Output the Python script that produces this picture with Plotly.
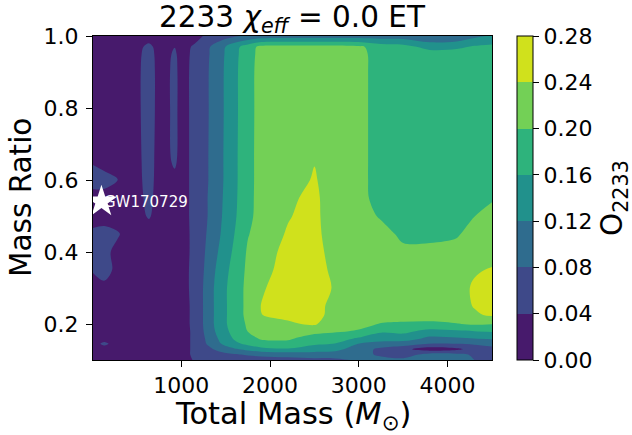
import plotly.graph_objects as go

# Total mass grid (columns) and mass ratio grid (rows)
total_mass = [5, 130, 280, 450, 635, 770, 925, 1000, 1150, 1300, 1450, 1600,
              1750, 1900, 2200, 2500, 2700, 3000, 3250, 3500, 3800, 4100, 4300, 4500]
mass_ratio = [0.10, 0.115, 0.13, 0.145, 0.16, 0.18, 0.20, 0.225, 0.25, 0.30, 0.35,
              0.40, 0.45, 0.50, 0.55, 0.60, 0.65, 0.80, 0.90, 0.95, 0.97, 1.00]

# O_2233 values, one list per mass-ratio row
o_q010 = [0.03, 0.03, 0.03, 0.03, 0.03, 0.03, 0.03, 0.03, 0.042, 0.042, 0.045, 0.05, 0.055, 0.06, 0.065, 0.07, 0.07, 0.085, 0.09, 0.09, 0.1, 0.1, 0.08, 0.06]
o_q0115 = [0.03, 0.03, 0.03, 0.03, 0.03, 0.03, 0.03, 0.03, 0.045, 0.055, 0.065, 0.075, 0.085, 0.09, 0.095, 0.1, 0.1, 0.09, 0.075, 0.06, 0.095, 0.09, 0.075, 0.065]
o_q013 = [0.03, 0.03, 0.03, 0.03, 0.03, 0.03, 0.03, 0.03, 0.045, 0.07, 0.095, 0.115, 0.13, 0.145, 0.155, 0.14, 0.135, 0.1, 0.07, 0.05, 0.02, 0.032, 0.055, 0.07]
o_q0145 = [0.03, 0.045, 0.03, 0.03, 0.03, 0.03, 0.03, 0.03, 0.045, 0.085, 0.12, 0.15, 0.17, 0.19, 0.19, 0.165, 0.16, 0.118, 0.105, 0.1, 0.078, 0.08, 0.085, 0.09]
o_q016 = [0.03, 0.03, 0.03, 0.03, 0.03, 0.03, 0.03, 0.03, 0.045, 0.09, 0.13, 0.165, 0.19, 0.203, 0.205, 0.185, 0.18, 0.155, 0.14, 0.14, 0.1107, 0.115, 0.12, 0.125]
o_q018 = [0.03, 0.03, 0.03, 0.03, 0.03, 0.03, 0.03, 0.03, 0.045, 0.097, 0.14, 0.175, 0.201, 0.213, 0.22, 0.21, 0.205, 0.197, 0.165, 0.17, 0.148, 0.155, 0.16, 0.165]
o_q020 = [0.03, 0.03, 0.03, 0.03, 0.03, 0.03, 0.03, 0.03, 0.046, 0.1, 0.145, 0.18, 0.205, 0.225, 0.235, 0.245, 0.215, 0.21, 0.198, 0.195, 0.195, 0.198, 0.205, 0.201]
o_q0225 = [0.03, 0.03, 0.03, 0.03, 0.03, 0.03, 0.03, 0.03, 0.046, 0.1, 0.145, 0.18, 0.21, 0.2395, 0.248, 0.255, 0.228, 0.222, 0.215, 0.215, 0.212, 0.222, 0.235, 0.245]
o_q025 = [0.03, 0.03, 0.03, 0.03, 0.03, 0.03, 0.03, 0.03, 0.046, 0.1, 0.145, 0.18, 0.21, 0.241, 0.258, 0.26, 0.227, 0.222, 0.218, 0.218, 0.215, 0.225, 0.242, 0.248]
o_q030 = [0.03, 0.036, 0.03, 0.03, 0.03, 0.03, 0.03, 0.032, 0.046, 0.1, 0.145, 0.18, 0.21, 0.235, 0.262, 0.262, 0.239, 0.225, 0.22, 0.22, 0.218, 0.225, 0.245, 0.25]
o_q035 = [0.042, 0.046, 0.036, 0.03, 0.03, 0.03, 0.03, 0.032, 0.046, 0.095, 0.14, 0.175, 0.208, 0.225, 0.258, 0.262, 0.232, 0.222, 0.22, 0.218, 0.218, 0.222, 0.236, 0.243]
o_q040 = [0.042, 0.045, 0.035, 0.03, 0.03, 0.03, 0.03, 0.032, 0.045, 0.09, 0.13, 0.168, 0.205, 0.215, 0.256, 0.26, 0.2236, 0.215, 0.212, 0.206, 0.206, 0.21, 0.222, 0.225]
o_q045 = [0.045, 0.048, 0.042, 0.03, 0.03, 0.03, 0.03, 0.032, 0.045, 0.085, 0.122, 0.1605, 0.198, 0.215, 0.244, 0.258, 0.213, 0.212, 0.21, 0.194, 0.194, 0.197, 0.21, 0.215]
o_q050 = [0.03, 0.03, 0.03, 0.03, 0.042, 0.03, 0.03, 0.033, 0.045, 0.081, 0.118, 0.155, 0.19, 0.215, 0.237, 0.255, 0.21, 0.212, 0.197, 0.19, 0.19, 0.19, 0.1995, 0.21]
o_q055 = [0.03, 0.03, 0.03, 0.03, 0.045, 0.03, 0.03, 0.033, 0.045, 0.081, 0.116, 0.153, 0.188, 0.215, 0.232, 0.251, 0.215, 0.21, 0.188, 0.188, 0.188, 0.19, 0.192, 0.197]
o_q060 = [0.05, 0.05, 0.041, 0.03, 0.047, 0.03, 0.035, 0.033, 0.045, 0.079, 0.114, 0.152, 0.187, 0.215, 0.225, 0.243, 0.225, 0.21, 0.186, 0.186, 0.186, 0.186, 0.187, 0.187]
o_q065 = [0.038, 0.03, 0.03, 0.03, 0.048, 0.03, 0.043, 0.033, 0.045, 0.079, 0.114, 0.152, 0.187, 0.215, 0.222, 0.239, 0.222, 0.21, 0.186, 0.186, 0.186, 0.186, 0.187, 0.187]
o_q080 = [0.03, 0.03, 0.03, 0.03, 0.05, 0.03, 0.045, 0.033, 0.045, 0.078, 0.113, 0.151, 0.186, 0.215, 0.222, 0.222, 0.222, 0.21, 0.186, 0.186, 0.186, 0.186, 0.187, 0.187]
o_q090 = [0.03, 0.03, 0.03, 0.03, 0.05, 0.03, 0.045, 0.033, 0.045, 0.078, 0.113, 0.151, 0.186, 0.215, 0.222, 0.222, 0.222, 0.21, 0.186, 0.186, 0.186, 0.186, 0.187, 0.187]
o_q095 = [0.03, 0.03, 0.03, 0.03, 0.048, 0.03, 0.043, 0.033, 0.044, 0.076, 0.111, 0.149, 0.184, 0.213, 0.22, 0.22, 0.22, 0.21, 0.185, 0.184, 0.18, 0.182, 0.185, 0.185]
o_q097 = [0.03, 0.03, 0.03, 0.03, 0.045, 0.03, 0.0395, 0.032, 0.043, 0.074, 0.108, 0.146, 0.181, 0.211, 0.213, 0.213, 0.213, 0.207, 0.18, 0.175, 0.145, 0.15, 0.165, 0.17]
o_q100 = [0.03, 0.03, 0.03, 0.03, 0.03, 0.03, 0.03, 0.03, 0.032, 0.045, 0.06, 0.075, 0.085, 0.095, 0.1, 0.1, 0.1, 0.1, 0.1, 0.1, 0.085, 0.09, 0.11, 0.125]

overlap = [o_q010, o_q0115, o_q013, o_q0145, o_q016, o_q018, o_q020, o_q0225,
           o_q025, o_q030, o_q035, o_q040, o_q045, o_q050, o_q055, o_q060,
           o_q065, o_q080, o_q090, o_q095, o_q097, o_q100]

# Event marker
event_name = ["GW170729"]
event_mass = [100]
event_q = [0.54]

cbar_ticks = [0.00, 0.04, 0.08, 0.12, 0.16, 0.20, 0.24, 0.28]
x_ticks = [1000, 2000, 3000, 4000]
y_ticks = [0.2, 0.4, 0.6, 0.8, 1.0]

band_colors = ["#471a6c", "#3e4989", "#2f6c8e", "#21918c", "#2eb37c", "#73d056", "#d0e11c"]
n = len(band_colors) - 1
contour_scale = [[i / n, c] for i, c in enumerate(band_colors)]
nb = len(band_colors)
step_scale = []
for i, c in enumerate(band_colors):
    step_scale.append([i / nb, c])
    step_scale.append([(i + 1) / nb, c])

FONT = "DejaVu Sans"

fig = go.Figure()
fig.add_trace(go.Contour(
    x=total_mass, y=mass_ratio, z=overlap,
    colorscale=contour_scale, showscale=False,
    contours=dict(start=0.04, end=0.24, size=0.04, coloring="fill"),
    line=dict(width=0, smoothing=1),
    hoverinfo="skip",
))

fig.add_trace(go.Scatter(
    x=event_mass, y=event_q, mode="markers",
    marker=dict(symbol="star", size=24, color="white", line=dict(width=0)),
    showlegend=False, cliponaxis=True, hoverinfo="skip",
))

# colour bar (discrete bands 0.00 - 0.28)
fig.add_trace(go.Scatter(
    x=event_mass, y=event_q, mode="markers", hoverinfo="skip", showlegend=False,
    marker=dict(size=1, opacity=0, color=[0.1], cmin=cbar_ticks[0], cmax=cbar_ticks[-1],
                colorscale=step_scale, showscale=True,
                colorbar=dict(
                    x=(517.3 - 93) / 399, xanchor="left", xpad=0,
                    y=0.5, yanchor="middle", len=1, lenmode="fraction", ypad=0,
                    thickness=16, outlinewidth=1, outlinecolor="black",
                    ticks="outside", ticklen=6, tickcolor="black",
                    tickvals=cbar_ticks, ticktext=["%.2f" % v for v in cbar_ticks],
                    tickfont=dict(family=FONT, size=22, color="black"),
                )),
))

fig.add_annotation(x=event_mass[0], y=event_q[0], xref="x", yref="y",
                   text=event_name[0], showarrow=False, xanchor="left", yanchor="middle",
                   xshift=1, font=dict(family=FONT, size=15, color="white"))

fig.add_annotation(x=0.5, y=1 + (36 - 19) / 324, xref="paper", yref="paper",
                   yanchor="middle", xanchor="center",
                   text="2233 <i>χ<sub>eff</sub></i> = 0.0 ET", showarrow=False,
                   font=dict(family=FONT, size=29.5, color="black"))
fig.add_annotation(x=0.5, y=0, xref="paper", yref="paper", yanchor="top", yshift=-34,
                   text="Total Mass (<i>M</i><sub>⊙</sub>)", showarrow=False,
                   font=dict(family=FONT, size=30.5, color="black"))
fig.add_annotation(x=(21 - 93) / 399, y=0.5, xref="paper", yref="paper",
                   xanchor="center", yanchor="middle", textangle=-90,
                   text="Mass Ratio", showarrow=False,
                   font=dict(family=FONT, size=29.5, color="black"))
fig.add_annotation(x=(614 - 93) / 399, y=0.5, xref="paper", yref="paper",
                   xanchor="center", yanchor="middle", textangle=-90,
                   text="O<sub>2233</sub>", showarrow=False,
                   font=dict(family=FONT, size=29.5, color="black"))

axis_common = dict(showline=True, linecolor="black", linewidth=1, mirror=True,
                   ticks="outside", ticklen=6, tickcolor="black", showgrid=False,
                   zeroline=False, tickfont=dict(family=FONT, size=22, color="black"))
fig.update_xaxes(range=[5, 4500], tickvals=x_ticks, **axis_common)
fig.update_yaxes(range=[0.1, 1.0], tickvals=y_ticks, tickformat=".1f",
                 ticklabelstandoff=3, **axis_common)

fig.update_layout(
    width=632, height=435,
    margin=dict(l=93, r=140, t=36, b=75, autoexpand=False),
    paper_bgcolor="white", plot_bgcolor="white",
    showlegend=False,
    font=dict(family=FONT, color="black"),
)

fig.write_html("out.html", config={"displayModeBar": False},
               post_script="document.body.style.margin='0';document.body.style.overflow='hidden';")
